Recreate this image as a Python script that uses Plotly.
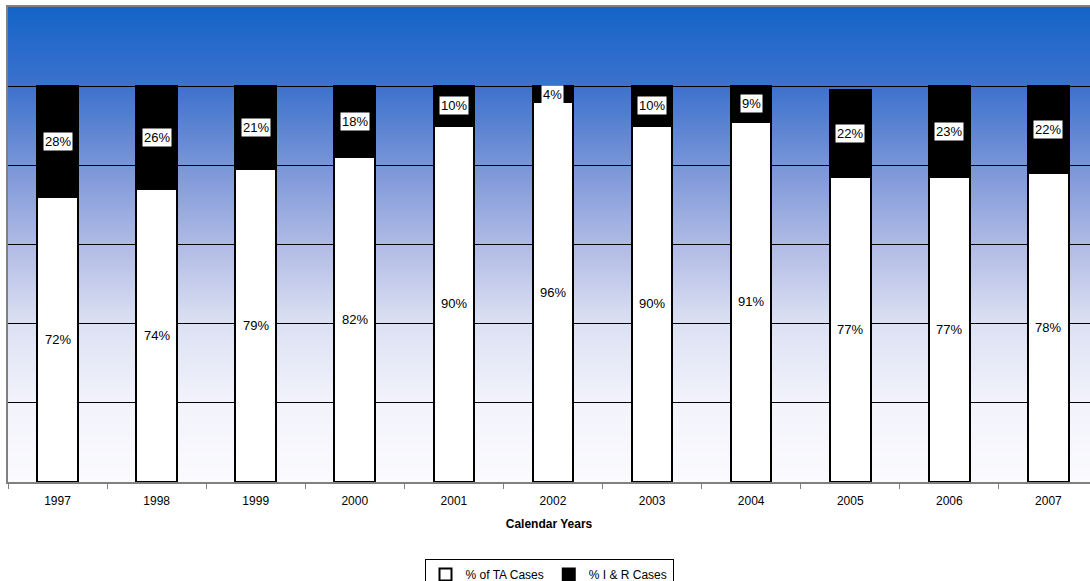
import base64, struct, zlib
import plotly.graph_objects as go

years = ["1997", "1998", "1999", "2000", "2001", "2002", "2003", "2004", "2005", "2006", "2007"]
ta_cases = [72, 74, 79, 82, 90, 96, 90, 91, 77, 77, 78]
ir_cases = [28, 26, 21, 18, 10, 4, 10, 9, 22, 23, 22]
y_ticks = [0, 0.2, 0.4, 0.6, 0.8, 1.0, 1.2]

# ---- vertical gradient background as PNG data URI ----
stops = [(0.0, (20, 100, 200)), (0.168, (62, 114, 205)), (0.335, (122, 150, 216)),
         (0.50, (176, 187, 229)), (0.667, (220, 225, 243)), (0.834, (242, 243, 251)),
         (1.0, (251, 251, 254))]

def color_at(t):
    for (t0, c0), (t1, c1) in zip(stops[:-1], stops[1:]):
        if t <= t1:
            f = (t - t0) / (t1 - t0) if t1 > t0 else 0
            return tuple(int(round(a + (b - a) * f)) for a, b in zip(c0, c1))
    return stops[-1][1]

H = 256
raw = b"".join(b"\x00" + bytes(color_at(i / (H - 1))) for i in range(H))
def chunk(tag, data):
    return struct.pack(">I", len(data)) + tag + data + struct.pack(">I", zlib.crc32(tag + data) & 0xffffffff)
png = (b"\x89PNG\r\n\x1a\n" + chunk(b"IHDR", struct.pack(">IIBBBBB", 1, H, 8, 2, 0, 0, 0))
       + chunk(b"IDAT", zlib.compress(raw)) + chunk(b"IEND", b""))
grad_uri = "data:image/png;base64," + base64.b64encode(png).decode()

FONT = "Liberation Sans, Arial, sans-serif"
xs = list(range(len(years)))
ta_frac = [v / 100 for v in ta_cases]
ir_frac = [v / 100 for v in ir_cases]

fig = go.Figure()
fig.add_trace(go.Bar(x=xs, y=ta_frac, name="% of TA Cases", width=0.41,
                     marker=dict(color="white", line=dict(color="black", width=2))))
fig.add_trace(go.Bar(x=xs, y=ir_frac, name="% I & R Cases", width=0.41,
                     marker=dict(color="black", line=dict(color="black", width=2))))

annotations = []
for i in xs:
    annotations.append(dict(x=i, y=ta_frac[i] / 2, text=f"{ta_cases[i]}%", showarrow=False,
                            bgcolor="white", borderpad=1, font=dict(size=13, color="black", family=FONT)))
    annotations.append(dict(x=i, y=ta_frac[i] + ir_frac[i] / 2, text=f"{ir_cases[i]}%", showarrow=False,
                            bgcolor="white", borderpad=1, font=dict(size=13, color="black", family=FONT)))

fig.update_layout(
    width=1090, height=581,
    margin=dict(l=8, r=0, t=7, b=99, autoexpand=False),
    barmode="stack",
    paper_bgcolor="white",
    plot_bgcolor="rgba(0,0,0,0)",
    font=dict(family=FONT, size=12, color="black"),
    images=[dict(source=grad_uri, xref="paper", yref="paper", x=0, y=1, sizex=1, sizey=1,
                 xanchor="left", yanchor="top", sizing="stretch", layer="below")],
    annotations=annotations,
    showlegend=True,
    legend=dict(orientation="h", x=0.5, xanchor="center", y=-0.162, yanchor="top",
                bordercolor="black", borderwidth=1, bgcolor="white",
                font=dict(size=12, family=FONT), itemwidth=30, traceorder="normal",
                tracegroupgap=0),
    xaxis=dict(range=[-0.5, 10.42], tickvals=xs, ticktext=years, ticks="",
               showline=True, linecolor="#808080", linewidth=2, mirror=True,
               showgrid=False, zeroline=False, ticklabelstandoff=7,
               tickfont=dict(size=12, family=FONT),
               minor=dict(tickvals=[i - 0.5 for i in range(len(years) + 1)], ticks="outside",
                          ticklen=5, tickcolor="#808080", tickwidth=1, showgrid=False),
               title=dict(text="<b>Calendar Years</b>", font=dict(size=12, family=FONT), standoff=12)),
    yaxis=dict(range=[0, 1.2], tickvals=y_ticks, showticklabels=False, ticks="",
               showgrid=True, gridcolor="black", gridwidth=1,
               showline=True, linecolor="#808080", linewidth=2, zeroline=False),
)

fig.write_html("out.html")
